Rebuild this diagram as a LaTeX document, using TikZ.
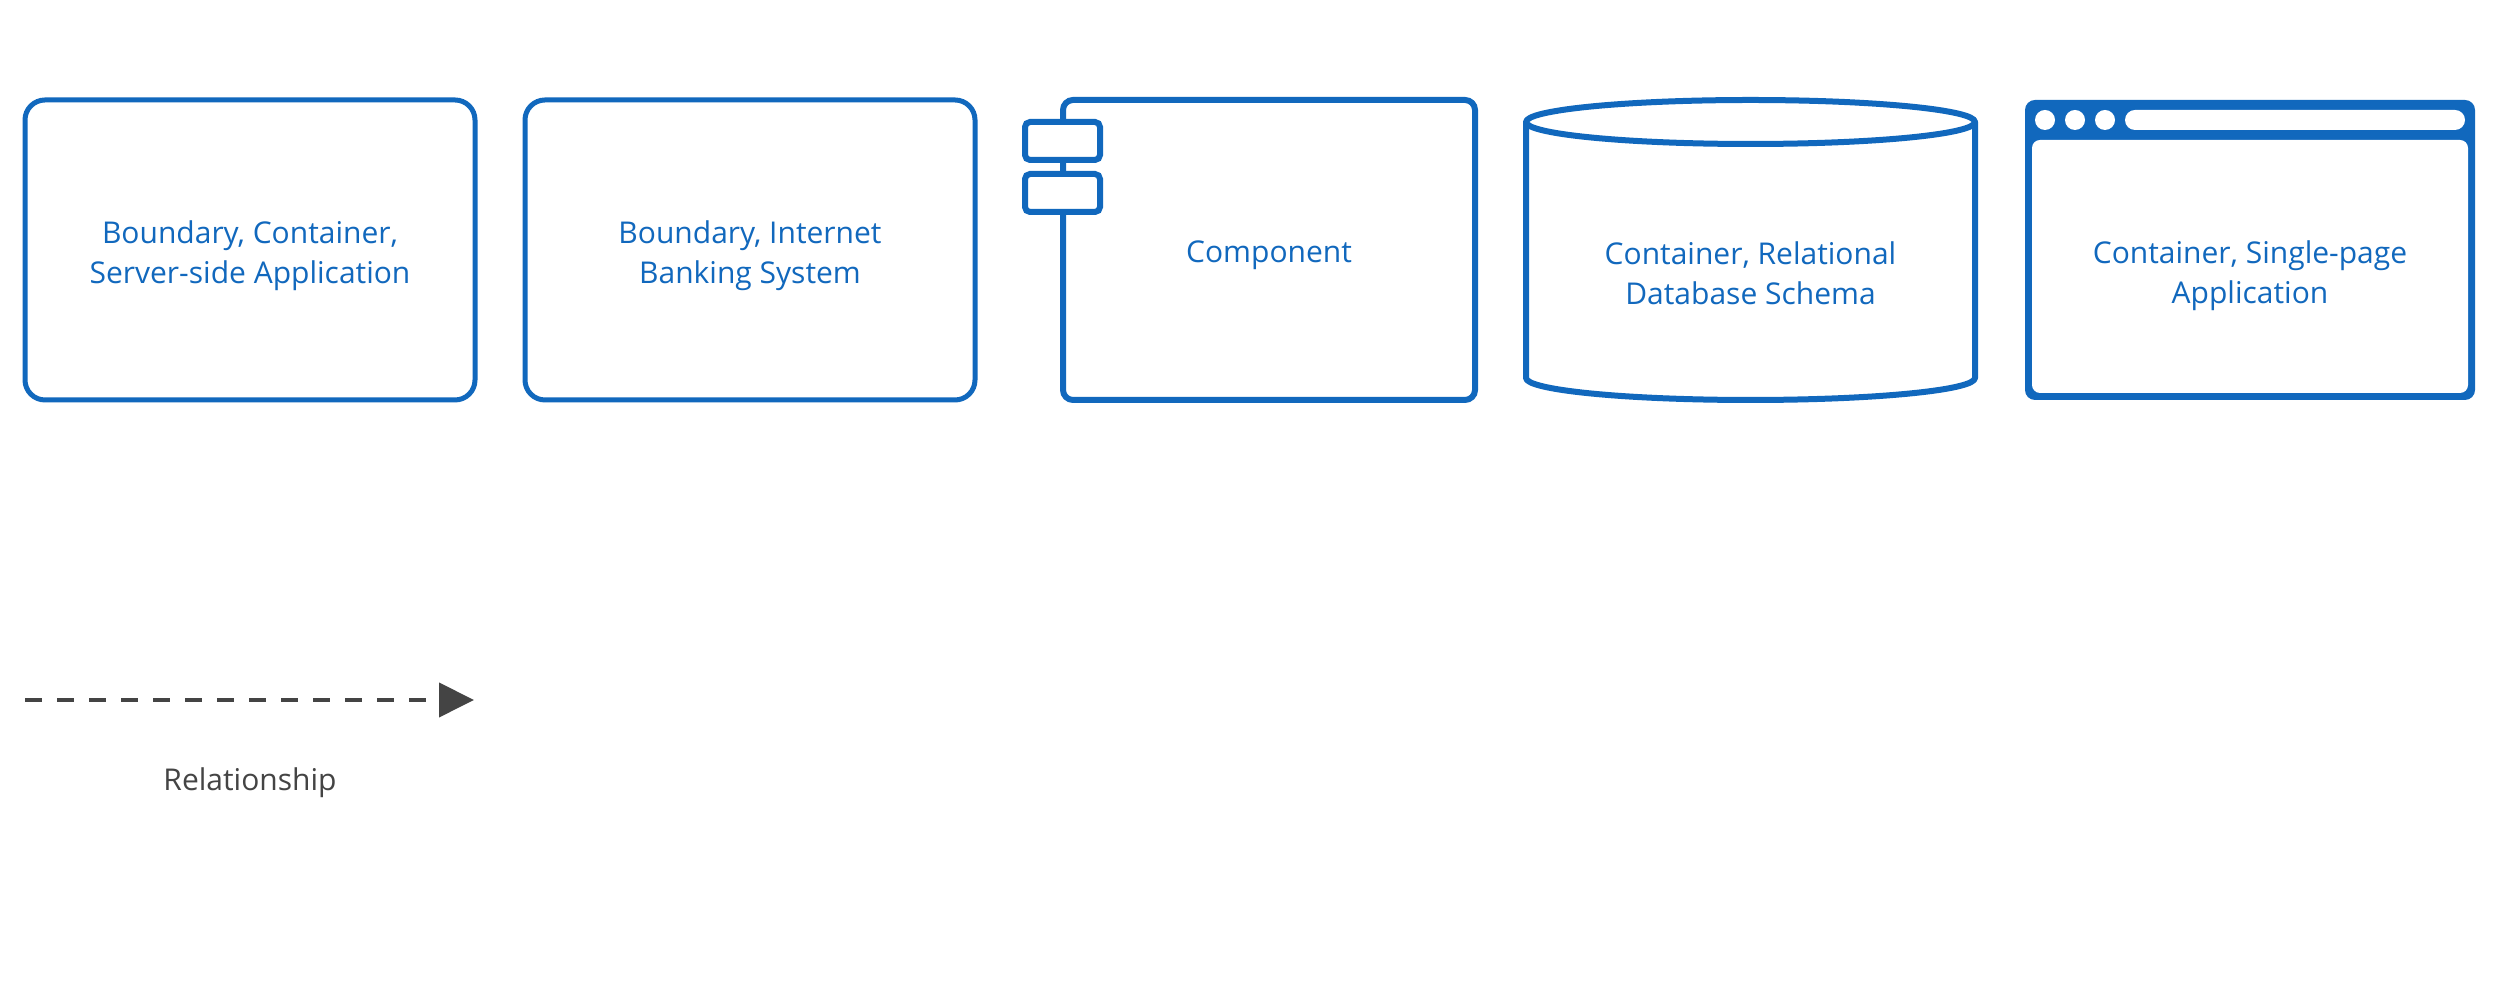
\documentclass[tikz,border=0pt]{standalone}
\usepackage{fontspec}
\setmainfont{Open Sans}
\usetikzlibrary{arrows.meta}
\definecolor{c4blue}{HTML}{1168BD}
\definecolor{relgray}{HTML}{444444}
\begin{document}
\begin{tikzpicture}[x=1pt,y=1pt,
  lbl/.style={text=c4blue,align=center,font=\fontsize{30}{40}\selectfont,inner sep=0pt},
  bbox/.style={draw=c4blue,line width=5pt,rounded corners=20pt,minimum width=450pt,minimum height=300pt,inner sep=0pt,fill=white},
  comp/.style={draw=c4blue,line width=6pt,rounded corners=10pt,fill=white},
  tab/.style={draw=c4blue,line width=6pt,rounded corners=5pt,fill=white,minimum width=75pt,minimum height=38pt,inner sep=0pt},
  rel/.style={draw=relgray,line width=4pt,dash pattern=on 17pt off 15pt,-{Triangle[length=35pt,width=34pt]}}
]
\useasboundingbox (0,0) rectangle (2500,1000);
\fill[white] (0,0) rectangle (2500,1000);

% Boundary, Container, Server-side Application
\node[bbox] (b1) at (250,750) {};
\node[lbl] (b1t) at (250,744) {Boundary, Container,\\Server-side Application};

% Boundary, Internet Banking System
\node[bbox] (b2) at (750,750) {};
\node[lbl] (b2t) at (750,744) {Boundary, Internet\\Banking System};

% Component
\node[comp,minimum width=412pt,minimum height=300pt,inner sep=0pt] (cm) at (1269,750) {};
\node[tab] (cm1) at (1062.5,859) {};
\node[tab] (cm2) at (1062.5,807) {};
\node[lbl] (cmt) at (1269,745) {Component};

% Cylinder (Container, Relational Database Schema)
\coordinate (cyl) at (1750.5,750);
\draw[c4blue,line width=6pt,fill=white,line join=round]
  (1526,878) -- (1526,622)
  arc[start angle=180,end angle=360,x radius=224.5pt,y radius=22pt]
  -- (1975,878)
  arc[start angle=0,end angle=180,x radius=224.5pt,y radius=22pt] -- cycle;
\draw[c4blue,line width=6pt]
  (1526,878) arc[start angle=180,end angle=360,x radius=224.5pt,y radius=22pt];
\node[lbl] (cyt) at (1750.5,727) {Container, Relational\\Database Schema};

% Browser (Container, Single-page Application)
\fill[c4blue,rounded corners=10pt] (2025,600) rectangle (2475,900);
\fill[white,rounded corners=8pt] (2032,607) rectangle (2468,860);
\foreach \cx in {2045,2075,2105}{\fill[white] (\cx,880) circle[radius=10pt];}
\fill[white,rounded corners=10pt] (2125,870) rectangle (2465,890);
\node[lbl] (brt) at (2250,724) {Container, Single-page\\Application};

% Relationship
\coordinate (r0) at (25,300);
\coordinate (r1) at (474,300);
\draw[rel] (r0) -- (r1);
\node[text=relgray,font=\fontsize{30}{40}\selectfont,inner sep=0pt] (rt) at (250,217) {Relationship};
\end{tikzpicture}
\end{document}
